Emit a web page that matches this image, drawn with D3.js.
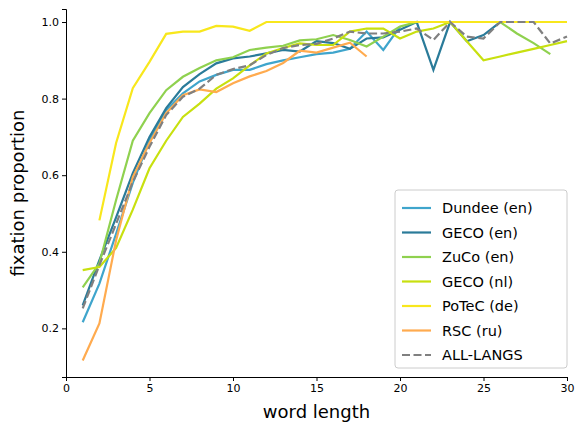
<!DOCTYPE html>
<html><head><meta charset="utf-8">
<script src="https://cdn.jsdelivr.net/npm/d3@7"></script>
<style>body{margin:0;background:#fff}text{font-family:"DejaVu Sans",sans-serif}</style>
</head><body><svg id="c" width="575" height="423"></svg>
<script>
// word lengths 1..30 (null = no data)
var lengths = d3.range(1, 31);
var seriesNames = ["Dundee (en)", "GECO (en)", "ZuCo (en)", "GECO (nl)", "PoTeC (de)", "RSC (ru)", "ALL-LANGS"];
var colours = ["#3fa5cc", "#2a7b99", "#8fd14f", "#c8e00f", "#f8e71c", "#ffab4f", "#808080"];
var dundee = [0.216,0.317,0.447,0.58,0.69,0.77,0.814,0.845,0.862,0.875,0.875,0.89,0.9,0.908,0.916,0.92,0.93,0.975,0.927,0.988];
var gecoEn = [0.26,0.378,0.49,0.605,0.70,0.775,0.83,0.864,0.892,0.905,0.91,0.918,0.927,0.923,0.95,0.945,0.93,0.957,0.96,0.98,1.0,0.875,1.0,0.95,0.966,1.0,1.0];
var zuco = [0.307,0.37,0.535,0.69,0.762,0.822,0.857,0.88,0.9,0.908,0.927,0.933,0.938,0.952,0.955,0.966,0.953,0.936,0.962,0.988,1.0,1.0,1.0,1.0,1.0,1.0,0.97,0.945,0.916];
var gecoNl = [0.352,0.36,0.41,0.51,0.618,0.69,0.752,0.787,0.826,0.853,0.887,0.918,0.932,0.944,0.94,0.94,0.975,0.983,0.983,0.957,0.975,0.983,1.0,0.95,0.9,0.91,0.92,0.93,0.94,0.95];
var potec = [null,0.482,0.684,0.827,0.896,0.969,0.975,0.975,0.99,0.988,0.977,1,1,1,1,1,1,1,1,1,1,1,1,1,1,1,1,1,1,1];
var rsc = [0.116,0.213,0.43,0.595,0.684,0.762,0.809,0.824,0.817,0.84,0.858,0.872,0.893,0.925,0.92,0.933,0.946,0.91];
var allLangs = [0.252,0.365,0.473,0.582,0.674,0.757,0.805,0.826,0.862,0.877,0.887,0.914,0.932,0.94,0.943,0.957,0.975,0.97,0.97,0.975,0.983,0.953,1.0,0.962,0.957,1.0,1.0,1.0,0.944,0.962];
var allSeries = [dundee, gecoEn, zuco, gecoNl, potec, rsc, allLangs];
var xTicks = [0, 5, 10, 15, 20, 25, 30];
var yTicks = [0.2, 0.4, 0.6, 0.8, 1.0];

var svg = d3.select("#c");
var m = {l: 66, r: 8, t: 9, b: 46};
var W = 575, H = 423;
var x = d3.scaleLinear().domain([0, 30]).range([m.l, W - m.r]);
var y = d3.scaleLinear().domain([0.073, 1.034]).range([H - m.b, m.t]);

var line = d3.line()
  .defined(function(d){ return d[1] != null; })
  .x(function(d){ return x(d[0]); })
  .y(function(d){ return y(d[1]); });

allSeries.forEach(function(s, i) {
  var pts = s.map(function(v, j){ return [lengths[j], v]; });
  svg.append("path").datum(pts).attr("d", line)
    .attr("fill", "none").attr("stroke", colours[i]).attr("stroke-width", 2.2)
    .attr("stroke-dasharray", i == 6 ? "8,3.5" : null);
});

var xa = svg.append("g").attr("transform", "translate(0," + (H - m.b) + ")")
  .call(d3.axisBottom(x).tickValues(xTicks).tickSize(4));
var ya = svg.append("g").attr("transform", "translate(" + m.l + ",0)")
  .call(d3.axisLeft(y).tickValues(yTicks).tickFormat(d3.format(".1f")).tickSize(4));
[xa, ya].forEach(function(a){
  a.selectAll("text").attr("font-size", 11).attr("fill", "#000");
  a.selectAll("line,path").attr("stroke", "#000").attr("stroke-width", 1);
});

svg.append("text").attr("x", (m.l + W - m.r) / 2).attr("y", H - 5).attr("text-anchor", "middle")
  .attr("font-size", 18).text("word length");
svg.append("text").attr("transform", "translate(24," + ((m.t + H - m.b) / 2) + ") rotate(-90)")
  .attr("text-anchor", "middle").attr("font-size", 18).text("fixation proportion");

// legend
var lg = svg.append("g").attr("transform", "translate(395,190)");
lg.append("rect").attr("width", 172).attr("height", 178).attr("rx", 3)
  .attr("fill", "#fff").attr("fill-opacity", 0.85).attr("stroke", "#ccc");
seriesNames.forEach(function(n, i) {
  var yy = 18 + i * 24.5;
  lg.append("line").attr("x1", 7).attr("x2", 36).attr("y1", yy).attr("y2", yy)
    .attr("stroke", colours[i]).attr("stroke-width", 2.2)
    .attr("stroke-dasharray", i == 6 ? "8,3.5" : null);
  lg.append("text").attr("x", 47).attr("y", yy + 5).attr("font-size", 14.5).text(n);
});
</script></body></html>
